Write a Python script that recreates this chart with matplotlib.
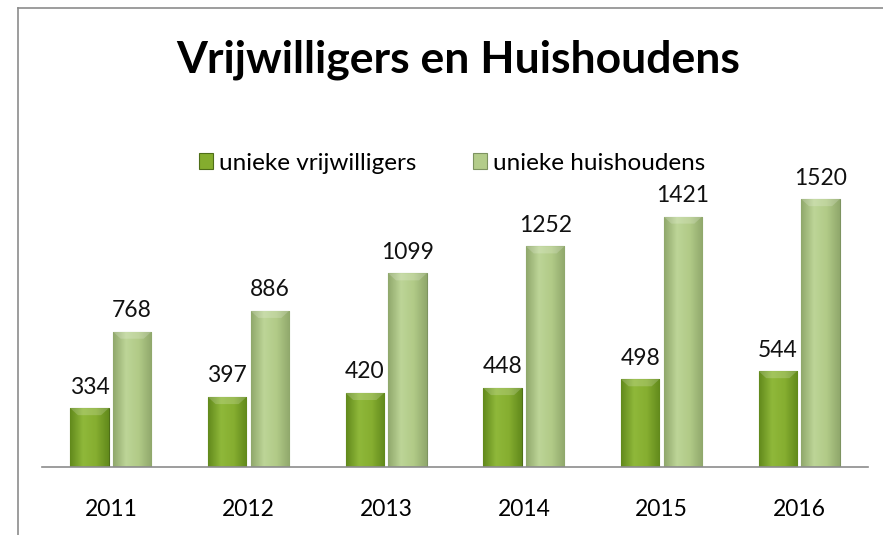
import numpy as np
import matplotlib.pyplot as plt
from matplotlib.colors import LinearSegmentedColormap

years = ["2011", "2012", "2013", "2014", "2015", "2016"]
vrijwilligers = [334, 397, 420, 448, 498, 544]
huishoudens = [768, 886, 1099, 1252, 1421, 1520]
series_names = ["unieke vrijwilligers", "unieke huishoudens"]

plt.rcParams['font.family'] = ['Lato', 'DejaVu Sans']

fig = plt.figure(figsize=(8.83, 5.35), dpi=100)
ax = fig.add_axes([42/883, 68/535, 826/883, 282/535])

x = np.arange(len(years))
w = 0.28
gap = 0.03

dark_cmap = LinearSegmentedColormap.from_list("d", ["#628a1c", "#8fb83a", "#86ae30", "#628a1c"])
light_cmap = LinearSegmentedColormap.from_list("l", ["#90a86c", "#bdd597", "#b1ca87", "#90a86c"])

b1 = ax.bar(x - w/2 - gap/2, vrijwilligers, w, color="#84ad2e", edgecolor="#4e6e18", linewidth=0.8,
            label=series_names[0])
b2 = ax.bar(x + w/2 + gap/2, huishoudens, w, color="#b3cc8a", edgecolor="#7d9360", linewidth=0.8,
            label=series_names[1])

# gradient fill inside each bar
grad = np.linspace(0, 1, 64).reshape(1, -1)
for bars, cmap in [(b1, dark_cmap), (b2, light_cmap)]:
    for r in bars:
        x0, y0 = r.get_x(), r.get_y()
        im = ax.imshow(grad, cmap=cmap, aspect="auto", extent=(x0, x0 + r.get_width(), y0, y0 + r.get_height()),
                       zorder=r.get_zorder() + 0.1)
        im.set_clip_path(r)
        # lighter bevel at top
        h = min(40, r.get_height())
        ax.fill([x0, x0 + r.get_width(), x0 + r.get_width()*0.8, x0 + r.get_width()*0.2],
                [y0 + r.get_height(), y0 + r.get_height(), y0 + r.get_height() - h, y0 + r.get_height() - h],
                color="white", alpha=0.18, lw=0, zorder=r.get_zorder() + 0.2)

for bars, vals in [(b1, vrijwilligers), (b2, huishoudens)]:
    for r, v in zip(bars, vals):
        ax.text(r.get_x() + r.get_width()/2, r.get_height() + 60, str(v), ha="center", va="bottom",
                fontsize=16.5, color="#111111")

ax.set_xlim(-0.5, len(years) - 0.5)
ax.set_ylim(0, 1600)
ax.set_xticks(x)
ax.set_xticklabels(years, fontsize=16.5)
ax.tick_params(axis="x", length=0, pad=23)
ax.set_yticks([])
for s in ["top", "right", "left"]:
    ax.spines[s].set_visible(False)
ax.spines["bottom"].set_color("#8c8c8c")
ax.spines["bottom"].set_linewidth(1.2)

fig.text(458/883, 1 - 60/535, "Vrijwilligers en Huishoudens", ha="center", va="center",
         fontsize=32, fontweight="bold")

leg = fig.legend(handles=[b1, b2], loc="center", bbox_to_anchor=(452/883, 1 - 163/535), ncol=2,
                 frameon=False, fontsize=17.5, handlelength=0.6, handleheight=0.6, handletextpad=0.25,
                 columnspacing=2.3)

# chart border
fig.add_artist(plt.Line2D([18/883, 18/883], [0, 1 - 8/535], color="#8c8c8c", lw=1.2))
fig.add_artist(plt.Line2D([18/883, 1], [1 - 8/535, 1 - 8/535], color="#8c8c8c", lw=1.2))

fig.savefig("out.png", dpi=100)
